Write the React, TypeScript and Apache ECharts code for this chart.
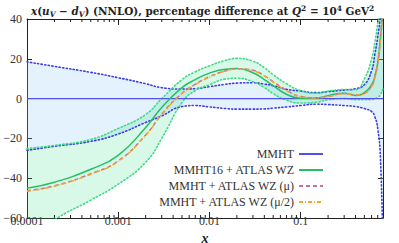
import React, { useEffect, useRef } from "react";
import * as echarts from "echarts";

// x grid (momentum fraction)
const xs = [1e-4, 2e-4, 5e-4, 1e-3, 2e-3, 3e-3, 5e-3, 7e-3, 0.01, 0.015, 0.02, 0.03, 0.04, 0.05, 0.07, 0.1, 0.15, 0.2, 0.3, 0.4, 0.5, 0.6, 0.65, 0.7, 0.75, 0.8];

// MMHT (reference) central and uncertainty band
const mmhtCentral = [0, 0, 0, 0, 0, 0, 0, 0, 0, 0, 0, 0, 0, 0, 0, 0, 0, 0, 0, 0, 0, 0, 0, 0, 0, 0];
const mmhtUpper = [18.5, 16.2, 13.2, 10.5, 7.5, 5.5, 4.8, 5, 6, 7.2, 7.8, 8, 7.3, 6.5, 4.7, 3.8, 3, 3.5, 4.3, 5, 7, 14, 22, 31, 42, 60];
const mmhtLower = [-26, -24, -21.5, -17.8, -12, -8.7, -4, -3.5, -4.2, -5, -5.3, -5.3, -5.2, -4.8, -4.2, -3.5, -2.8, -3, -3.5, -4, -5, -6.5, -9, -15, -30, -80];

// MMHT16 + ATLAS WZ central and band
const atlasCentral = [-45, -42, -35.5, -28.5, -14.5, -4.5, 5.5, 9.5, 12.8, 14.8, 15.1, 13, 9.5, 6.5, 2.2, 0.2, 0.3, 1.5, 2.7, 1.6, 3, 7, 11, 18, 30, 45];
const atlasUpper = [-25, -23.5, -20.5, -15, -8, 0, 9.5, 13.5, 16.5, 19.2, 20.2, 18.8, 15.5, 12, 7.5, 4, 2.8, 3.8, 4.5, 4.5, 10, 20, 28, 38, 50, 65];
const atlasLower = [-72, -61, -51, -43, -32, -20, -2, 4, 7, 9.8, 10.2, 8.5, 5.5, 2.5, -0.8, -2.2, -1.8, -0.6, 0, -0.5, -0.5, -0.5, 0, 0.5, 2, 5];

// scale variations
const muCentral = [-46.3, -43.8, -37.8, -31.3, -18.3, -7.8, 2.7, 7.2, 11, 14, 15, 14.2, 11.5, 8.5, 4.2, 1.1, 0.4, 1.1, 2.6, 1.9, 2.7, 6.5, 11, 18, 31, 49];
const mu2Central = [-46.5, -44, -38, -31.5, -18.5, -8, 2.5, 7, 10.8, 13.8, 14.8, 14, 11.3, 8.3, 4, 1, 0.3, 1, 2.5, 1.8, 2.5, 6, 10, 17, 29, 46];

const seriesNames = ["MMHT", "MMHT16 + ATLAS WZ", "MMHT + ATLAS WZ (\u03bc)", "MMHT + ATLAS WZ (\u03bc/2)"];
const xTickLabels = ["0.0001", "0.001", "0.01", "0.1"];
const xMinorTicks = [
  2e-4, 3e-4, 4e-4, 5e-4, 6e-4, 7e-4, 8e-4, 9e-4,
  2e-3, 3e-3, 4e-3, 5e-3, 6e-3, 7e-3, 8e-3, 9e-3,
  0.02, 0.03, 0.04, 0.05, 0.06, 0.07, 0.08, 0.09,
  0.2, 0.3, 0.4, 0.5, 0.6, 0.7,
];

const SERIF = "'Liberation Serif', 'DejaVu Serif', serif";
const TSERIF = "'DejaVu Serif', 'Liberation Serif', serif";

// [y, x] ordering so that the stacked dimension is y
function yx(ys: number[]) {
  return xs.map((x, i) => [ys[i], x]);
}
function yxDiff(a: number[], b: number[]) {
  return xs.map((x, i) => [a[i] - b[i], x]);
}

export default function App() {
  const ref = useRef<HTMLDivElement>(null);
  useEffect(() => {
    if (!ref.current) return;
    const chart = echarts.init(ref.current, undefined, { renderer: "svg" });
    const SM = 0.5;
    const hidden = { opacity: 0 };
    const base = { type: "line", symbol: "none", smooth: SM, silent: true, encode: { x: 1, y: 0 } };
    const dotted = (c: string) => ({ color: c, width: 1.6, type: [1.2, 2.4], cap: "round" });
    const xAxisCommon = {
      type: "log",
      logBase: 10,
      min: 1e-4,
      max: 0.8,
      splitLine: { show: false },
      axisLine: { onZero: false, lineStyle: { color: "#222", width: 1 } },
      axisTick: { inside: true, length: 6, lineStyle: { color: "#222" } },
      minorTick: { show: false },
    };
    const yAxisCommon = {
      type: "value",
      min: -60,
      max: 40,
      interval: 20,
      splitLine: { show: false },
      axisLine: { show: true, onZero: false, lineStyle: { color: "#222", width: 1 } },
      axisTick: { inside: true, length: 5, lineStyle: { color: "#222" } },
    };
    const tb = { fontFamily: TSERIF, fontWeight: "bold", fontSize: 10.4, color: "#222", lineHeight: 14 };
    chart.setOption({
      animation: false,
      backgroundColor: "#fff",
      title: {
        left: 26,
        top: -1,
        text:
          "{i|x}{b|(}{i|u}{sub|V}{b| \u2212 }{i|d}{sub|V}{b|) (NNLO), percentage difference at }{i|Q}{sup|2}{b| = 10}{sup|4}{b| GeV}{sup|2}",
        textStyle: {
          rich: {
            b: tb,
            i: { ...tb, fontStyle: "italic" },
            sub: { ...tb, fontStyle: "italic", fontSize: 7.5, verticalAlign: "bottom" },
            sup: { ...tb, fontSize: 7.5, verticalAlign: "top" },
          },
        },
      },
      grid: { left: 27, right: 16, top: 19, bottom: 25, containLabel: false, outerBoundsMode: "none" },
      legend: {
        orient: "vertical",
        right: 70,
        top: 143,
        align: "right",
        itemWidth: 24,
        itemHeight: 10,
        itemGap: 4,
        data: seriesNames,
        itemStyle: { opacity: 0, borderWidth: 0 },
        textStyle: { fontFamily: SERIF, fontSize: 12, color: "#333" },
      },
      xAxis: [
        {
          ...xAxisCommon,
          position: "bottom",
          name: "x",
          nameLocation: "middle",
          nameGap: -3,
          nameTextStyle: { fontFamily: SERIF, fontStyle: "italic", fontWeight: "bold", fontSize: 14, lineHeight: 12, color: "#222" },
          axisLabel: {
            fontFamily: SERIF,
            fontSize: 12,
            color: "#333",
            margin: -3,
            showMaxLabel: false,
            formatter: (v: number) => {
              const l = Math.log10(v);
              const e = Math.round(l);
              if (Math.abs(l - e) > 0.01) return "";
              return xTickLabels[e + 4] ?? "";
            },
          },
        },
        { ...xAxisCommon, position: "top", axisLabel: { show: false } },
      ],
      yAxis: [
        {
          ...yAxisCommon,
          position: "left",
          axisLabel: {
            fontFamily: SERIF,
            fontSize: 12,
            color: "#333",
            margin: 5,
            formatter: (v: number) => String(v).replace("-", "\u2212"),
          },
        },
        { ...yAxisCommon, position: "right", axisLabel: { show: false } },
      ],
      series: [
        { ...base, name: "mmhtBase", data: yx(mmhtLower), stack: "mmht", stackStrategy: "all", lineStyle: hidden },
        {
          ...base,
          name: "mmhtBand",
          data: yxDiff(mmhtUpper, mmhtLower),
          stack: "mmht",
          stackStrategy: "all",
          lineStyle: hidden,
          areaStyle: { color: "rgba(130,195,245,0.32)" },
        },
        { ...base, name: "atlasBase", data: yx(atlasLower), stack: "atlas", stackStrategy: "all", lineStyle: hidden },
        {
          ...base,
          name: "atlasBand",
          data: yxDiff(atlasUpper, atlasLower),
          stack: "atlas",
          stackStrategy: "all",
          lineStyle: hidden,
          areaStyle: { color: "rgba(40,215,125,0.26)" },
        },
        { ...base, name: "mmhtUp", data: yx(mmhtUpper), lineStyle: dotted("#3d3de6") },
        { ...base, name: "mmhtLo", data: yx(mmhtLower), lineStyle: dotted("#3d3de6") },
        { ...base, name: "atlasUp", data: yx(atlasUpper), lineStyle: dotted("#3ddc84") },
        { ...base, name: "atlasLo", data: yx(atlasLower), lineStyle: dotted("#3ddc84") },
        { ...base, name: seriesNames[0], data: yx(mmhtCentral), color: "#6a6af2", lineStyle: { color: "#5050ee", width: 1.3 } },
        { ...base, name: seriesNames[1], data: yx(atlasCentral), color: "#22c065", lineStyle: { color: "#22c065", width: 1.5 } },
        { ...base, name: seriesNames[2], data: yx(muCentral), color: "#c8709c", lineStyle: { color: "#c8709c", width: 1.5, type: [4, 3] } },
        { ...base, name: seriesNames[3], data: yx(mu2Central), color: "#f5a623", lineStyle: { color: "#f5a623", width: 1.5, type: [4, 2, 1, 2] } },
        {
          type: "custom",
          name: "minorTicks",
          silent: true,
          clip: false,
          z: 10,
          data: xMinorTicks.map((x) => [x, -60]),
          renderItem: (_p: any, api: any) => {
            const x = api.value(0);
            const b = api.coord([x, -60]);
            const t = api.coord([x, 40]);
            const st = { stroke: "#222", lineWidth: 1 };
            return {
              type: "group",
              children: [
                { type: "line", shape: { x1: b[0], y1: b[1], x2: b[0], y2: b[1] - 3 }, style: st },
                { type: "line", shape: { x1: t[0], y1: t[1], x2: t[0], y2: t[1] + 3 }, style: st },
              ],
            };
          },
        },
      ],
    });
    return () => chart.dispose();
  }, []);
  return <div ref={ref} style={{ width: 399, height: 243, position: "absolute", left: 0, top: 0 }} />;
}
